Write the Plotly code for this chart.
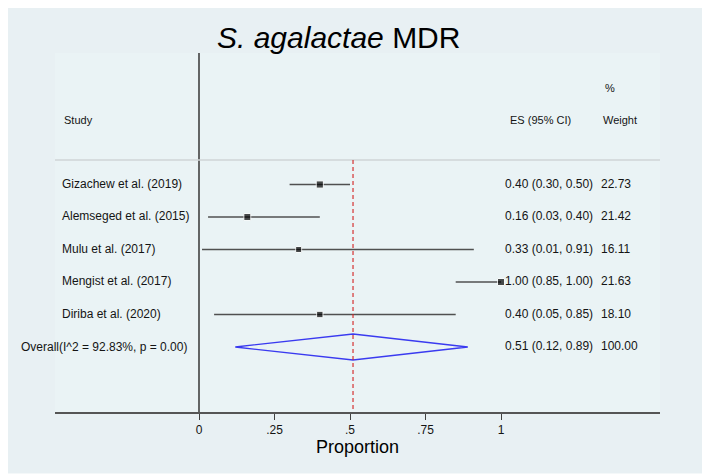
import math
import plotly.graph_objs as go

# forest plot data
studies = ['Gizachew et al. (2019)', 'Alemseged et al. (2015)', 'Mulu et al. (2017)',
           'Mengist et al. (2017)', 'Diriba et al. (2020)']
es = [0.40, 0.16, 0.33, 1.00, 0.40]
lo = [0.30, 0.03, 0.01, 0.85, 0.05]
hi = [0.50, 0.40, 0.91, 1.00, 0.85]
weights = [22.73, 21.42, 16.11, 21.63, 18.10]

overall_label = 'Overall(I^2 = 92.83%, p = 0.00)'
overall_es, overall_lo, overall_hi, overall_w = 0.51, 0.12, 0.89, 100.00

tick_vals = [0, 0.25, 0.5, 0.75, 1]
tick_text = ['0', '.25', '.5', '.75', '1']

FONT = 'Liberation Sans, Arial, sans-serif'
TXT = '#141414'

# screen layout of the plot area (page body adds 8px offset)
X0, X1, Y0, Y1 = 55, 660, 53, 412
PX = 302.0          # pixels per unit on the x axis, 0 sits at x=199
ROW0, ROWH = 184.5, 32.5


def px2x(px):
    return (px - 199) / PX


def px2paper_x(px):
    return (px - X0) / (X1 - X0)


def py2paper_y(py):
    return (Y1 - py) / (Y1 - Y0)


def py2row(py):
    return 1 + (py - ROW0) / ROWH


rows = list(range(1, len(studies) + 1))
overall_row = len(studies) + 1

fig = go.Figure()

# confidence interval lines
ci_x, ci_y = [], []
for r, a, b in zip(rows, lo, hi):
    ci_x.extend([a, b, None])
    ci_y.extend([r, r, None])
fig.add_trace(go.Scatter(x=ci_x, y=ci_y, mode='lines',
                         line=dict(color='#505050', width=1.6), hoverinfo='skip'))

# point estimates, box size from weight
fig.add_trace(go.Scatter(x=es, y=rows, mode='markers',
                         marker=dict(symbol='square', color='black',
                                     size=[1.5 * math.sqrt(w) for w in weights]),
                         hoverinfo='skip'))

# pooled estimate diamond
fig.add_trace(go.Scatter(
    x=[overall_lo, overall_es, overall_hi, overall_es, overall_lo],
    y=[overall_row, overall_row - 0.4, overall_row, overall_row + 0.4, overall_row],
    mode='lines', line=dict(color='#3a3af0', width=1.3), hoverinfo='skip'))

# study labels
lab_x = px2x(62)
fig.add_trace(go.Scatter(x=[lab_x] * len(studies), y=rows, mode='text', text=studies,
                         textposition='middle right', cliponaxis=False,
                         textfont=dict(family=FONT, size=12, color=TXT), hoverinfo='skip'))
fig.add_annotation(x=px2paper_x(19), xref='paper', y=overall_row, yref='y',
                   text=overall_label, showarrow=False, xanchor='left',
                   font=dict(family=FONT, size=12, color=TXT))

# ES and weight columns
all_rows = rows + [overall_row]
es_txt = ['%.2f (%.2f, %.2f)' % t for t in zip(es + [overall_es], lo + [overall_lo], hi + [overall_hi])]
w_txt = ['%.2f' % w for w in weights + [overall_w]]
es_x = px2x(505)
w_x = px2x(601)
fig.add_trace(go.Scatter(x=[es_x] * len(all_rows), y=all_rows, mode='text', text=es_txt,
                         textposition='middle right', cliponaxis=False,
                         textfont=dict(family=FONT, size=12, color=TXT), hoverinfo='skip'))
fig.add_trace(go.Scatter(x=[w_x] * len(all_rows), y=all_rows, mode='text', text=w_txt,
                         textposition='middle right', cliponaxis=False,
                         textfont=dict(family=FONT, size=12, color=TXT), hoverinfo='skip'))

# header
for xx, t, py in [(lab_x, 'Study', 120), (px2x(508), 'ES (95% CI)', 120),
                  (w_x, 'Weight', 120), (px2x(603), '%', 88)]:
    fig.add_annotation(x=xx, y=py2row(py), text=t, showarrow=False, xanchor='left',
                       font=dict(family=FONT, size=11, color=TXT))

# vertical null line, header separator, dashed overall line
fig.add_shape(type='line', x0=0, x1=0, xref='x', y0=0, y1=1, yref='paper',
              line=dict(color='#404040', width=1.6))
fig.add_shape(type='line', x0=0, x1=1, xref='paper', y0=py2row(160), y1=py2row(160), yref='y',
              line=dict(color='#cfd4d6', width=1.5))
fig.add_shape(type='line', x0=overall_es, x1=overall_es, y0=py2row(160), y1=py2row(Y1),
              line=dict(color='#d42020', width=1.1, dash='4px,3px'))
# white frame round the picture
fig.add_shape(type='rect', xref='paper', yref='paper',
              x0=px2paper_x(1), x1=px2paper_x(709), y0=py2paper_y(475), y1=py2paper_y(1),
              line=dict(color='white', width=3))

fig.add_annotation(text='<i>S. agalactae</i> MDR', x=px2paper_x(338), y=py2paper_y(38),
                   xref='paper', yref='paper', showarrow=False, xanchor='center', yanchor='middle',
                   font=dict(family=FONT, size=30, color='black'))

W, H = 702, 468   # page body margin of 8px takes the rest
fig.update_layout(
    width=W, height=H,
    margin=dict(l=X0 - 8, r=W - (X1 - 8), t=Y0 - 8, b=H - (Y1 - 8)),
    paper_bgcolor='#e8f0f3', plot_bgcolor='#eaf3f5',
    showlegend=False,
    xaxis=dict(range=[px2x(X0), px2x(X1)], showgrid=False, zeroline=False,
               tickvals=tick_vals, ticktext=tick_text, ticks='outside', ticklen=6,
               tickcolor='#404040', showline=True, linecolor='#555555', linewidth=2,
               tickfont=dict(family=FONT, size=12, color=TXT),
               title=dict(text='Proportion', standoff=0,
                          font=dict(family=FONT, size=18, color='black'))),
    yaxis=dict(range=[py2row(Y1), py2row(Y0)], showgrid=False,
               zeroline=False, showticklabels=False, showline=False),
)

fig.write_html('out.html')
